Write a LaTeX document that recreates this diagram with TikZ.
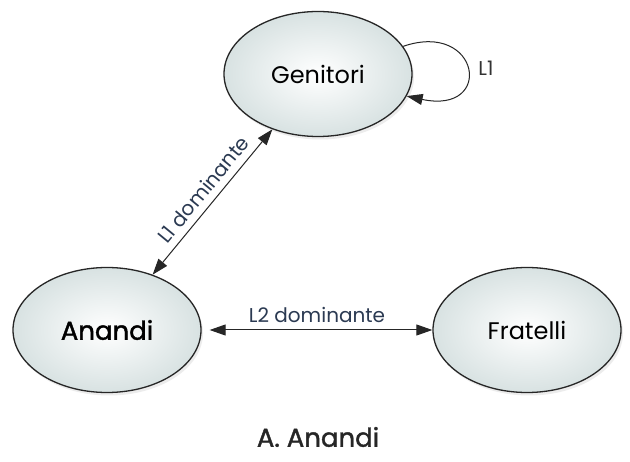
\documentclass[tikz,border=0pt]{standalone}
\usepackage{fontspec}
\setmainfont{Poppins}
\newfontfamily\semib[FakeBold=1.5]{Poppins}
\usetikzlibrary{shapes.geometric,arrows.meta,shadows}
\definecolor{ellout}{HTML}{D8E2E2}
\definecolor{labcol}{HTML}{2B3A52}
\tikzset{
  bub/.style={ellipse, draw=black!85, line width=1.3pt, minimum width=188pt, minimum height=125pt,
    inner sep=0pt, inner color=white, outer color=ellout,
    drop shadow={opacity=0.15, shadow xshift=2pt, shadow yshift=-3pt}},
  conn/.style={line width=1pt, draw=black!85, {Triangle[length=16pt,width=11pt]}-{Triangle[length=16pt,width=11pt]}},
  lab/.style={text=labcol, font=\fontsize{20}{22}\selectfont, inner sep=1pt}
}
\begin{document}
\begin{tikzpicture}[x=1pt,y=-1pt]
\useasboundingbox[fill=white] (0,0) rectangle (630,462);
\node[bub] (g) at (318,74) {\fontsize{24}{26}\selectfont Genitori};
\node[bub] (a) at (107,330) {\semib\fontsize{26}{28}\selectfont Anandi};
\node[bub] (f) at (527,330) {\fontsize{24}{26}\selectfont Fratelli};
\draw[conn] (a) -- node[lab, sloped, above=6pt, pos=0.52] {L1 dominante} (g);
\draw[conn, shorten <=8pt] (a) -- node[lab, above=6pt] {L2 dominante} (f);
\draw[line width=1pt, draw=black!85, -{Triangle[length=16pt,width=11pt]}] (g.18) .. controls (480,20) and (495,115) .. (g.-14);
\node[lab, text=black!80] (l1) at (486,68) {L1};
\node[font=\semib\fontsize{26}{28}\selectfont, text=black!85] (t) at (318,437) {A. Anandi};
\end{tikzpicture}
\end{document}
